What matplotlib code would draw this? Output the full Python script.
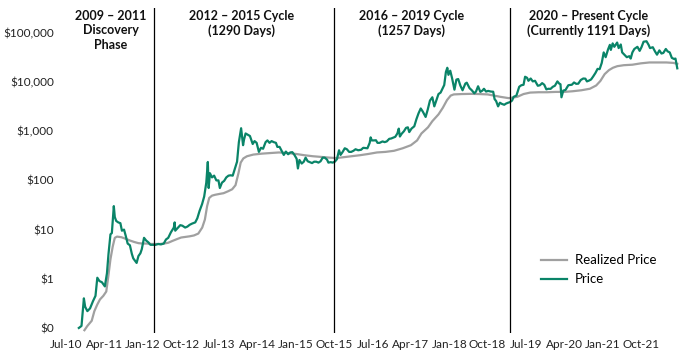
import pandas as pd
import numpy as np
import matplotlib
matplotlib.use('Agg')
import matplotlib.pyplot as plt
import matplotlib.dates as mdates
from matplotlib.ticker import FixedLocator, NullLocator

plt.rcParams['font.family'] = ['Lato', 'DejaVu Sans']

# bitcoin price
price_dates = [
    '2010-10-01', '2010-10-20', '2010-11-06', '2010-11-15', '2010-12-01', '2010-12-20',
    '2011-01-10', '2011-01-28', '2011-02-10', '2011-02-25', '2011-03-15', '2011-04-05',
    '2011-04-20', '2011-05-01', '2011-05-15', '2011-05-25', '2011-06-08', '2011-06-15',
    '2011-06-25', '2011-07-10', '2011-07-25', '2011-08-05', '2011-08-20', '2011-09-01',
    '2011-09-15', '2011-10-01', '2011-10-15', '2011-10-25', '2011-11-18', '2011-12-01',
    '2011-12-15', '2011-12-25', '2012-01-10', '2012-01-25', '2012-02-10', '2012-02-25',
    '2012-03-15', '2012-04-01', '2012-04-20', '2012-05-10', '2012-05-30', '2012-06-15',
    '2012-07-01', '2012-07-20', '2012-08-10', '2012-08-16', '2012-08-20', '2012-09-10',
    '2012-09-25', '2012-10-10', '2012-10-30', '2012-11-15', '2012-12-01', '2012-12-20',
    '2013-01-10', '2013-01-25', '2013-02-10', '2013-02-28', '2013-03-15', '2013-03-30',
    '2013-04-10', '2013-04-16', '2013-04-25', '2013-05-10', '2013-05-25', '2013-06-10',
    '2013-06-25', '2013-07-05', '2013-07-20', '2013-08-05', '2013-08-20', '2013-09-05',
    '2013-09-20', '2013-10-05', '2013-10-20', '2013-11-05', '2013-11-18', '2013-11-25',
    '2013-12-04', '2013-12-18', '2013-12-25', '2014-01-05', '2014-01-20', '2014-02-05',
    '2014-02-25', '2014-03-10', '2014-03-25', '2014-04-10', '2014-04-25', '2014-05-10',
    '2014-05-28', '2014-06-10', '2014-06-25', '2014-07-10', '2014-07-25', '2014-08-10',
    '2014-08-20', '2014-09-05', '2014-09-20', '2014-10-05', '2014-10-20', '2014-11-05',
    '2014-11-20', '2014-12-05', '2014-12-20', '2015-01-05', '2015-01-14', '2015-01-25',
    '2015-02-10', '2015-02-25', '2015-03-10', '2015-03-25', '2015-04-10', '2015-04-25',
    '2015-05-10', '2015-05-25', '2015-06-10', '2015-06-25', '2015-07-10', '2015-07-25',
    '2015-08-10', '2015-08-20', '2015-09-05', '2015-09-20', '2015-10-05', '2015-10-20',
    '2015-11-04', '2015-11-15', '2015-11-30', '2015-12-15', '2015-12-30', '2016-01-15',
    '2016-01-30', '2016-02-15', '2016-03-01', '2016-03-20', '2016-04-10', '2016-04-25',
    '2016-05-10', '2016-05-25', '2016-06-10', '2016-06-17', '2016-06-25', '2016-07-10',
    '2016-07-25', '2016-08-05', '2016-08-20', '2016-09-10', '2016-09-25', '2016-10-10',
    '2016-10-28', '2016-11-10', '2016-11-25', '2016-12-10', '2016-12-25', '2017-01-04',
    '2017-01-12', '2017-01-25', '2017-02-10', '2017-02-25', '2017-03-10', '2017-03-20',
    '2017-04-05', '2017-04-25', '2017-05-10', '2017-05-25', '2017-06-10', '2017-06-25',
    '2017-07-15', '2017-07-30', '2017-08-15', '2017-09-01', '2017-09-15', '2017-09-30',
    '2017-10-15', '2017-10-30', '2017-11-10', '2017-11-25', '2017-12-07', '2017-12-17',
    '2017-12-25', '2018-01-07', '2018-01-20', '2018-02-06', '2018-02-20', '2018-03-05',
    '2018-03-20', '2018-04-05', '2018-04-25', '2018-05-05', '2018-05-25', '2018-06-10',
    '2018-06-28', '2018-07-10', '2018-07-25', '2018-08-10', '2018-08-25', '2018-09-05',
    '2018-09-20', '2018-10-05', '2018-10-25', '2018-11-10', '2018-11-20', '2018-12-01',
    '2018-12-15', '2018-12-28', '2019-01-10', '2019-01-28', '2019-02-10', '2019-02-25',
    '2019-03-10', '2019-03-25', '2019-04-05', '2019-04-25', '2019-05-15', '2019-05-30',
    '2019-06-15', '2019-06-26', '2019-07-10', '2019-07-20', '2019-08-05', '2019-08-20',
    '2019-09-05', '2019-09-25', '2019-10-10', '2019-10-26', '2019-11-10', '2019-11-25',
    '2019-12-10', '2019-12-25', '2020-01-10', '2020-01-25', '2020-02-12', '2020-02-25',
    '2020-03-05', '2020-03-12', '2020-03-25', '2020-04-10', '2020-04-30', '2020-05-10',
    '2020-05-25', '2020-06-10', '2020-06-25', '2020-07-10', '2020-07-28', '2020-08-15',
    '2020-08-30', '2020-09-10', '2020-09-25', '2020-10-10', '2020-10-25', '2020-11-10',
    '2020-11-25', '2020-12-10', '2020-12-25', '2021-01-08', '2021-01-22', '2021-02-08',
    '2021-02-21', '2021-02-28', '2021-03-13', '2021-03-25', '2021-04-14', '2021-04-25',
    '2021-05-10', '2021-05-20', '2021-06-05', '2021-06-22', '2021-07-10', '2021-07-20',
    '2021-08-01', '2021-08-15', '2021-09-06', '2021-09-22', '2021-10-05', '2021-10-20',
    '2021-11-10', '2021-11-25', '2021-12-05', '2021-12-25', '2022-01-10', '2022-01-24',
    '2022-02-10', '2022-02-25', '2022-03-10', '2022-03-28', '2022-04-10', '2022-04-25',
    '2022-05-10', '2022-05-25', '2022-06-05', '2022-06-13', '2022-06-18',
]
price = [
    0.1, 0.11, 0.40, 0.27, 0.22, 0.25,
    0.35, 0.45, 1.05, 0.9, 0.85, 0.70,
    1.3, 3.2, 8.0, 8.5, 30, 18,
    15, 14, 13.5, 9.5, 10, 7.5,
    5.2, 4.8, 3.2, 2.6, 2.1, 2.9,
    3.3, 4.0, 6.8, 6.0, 5.5, 4.9,
    4.9, 4.9, 5.1, 5.0, 5.2, 6.3,
    6.8, 8.8, 11, 14, 9.5, 11,
    12.3, 12, 11, 11.5, 12.5, 13.3,
    14, 17, 24, 33, 47, 90,
    237, 70, 140, 115, 125, 100,
    100, 70, 90, 98, 115, 125,
    127, 125, 170, 240, 600, 800,
    1150, 520, 680, 900, 850, 800,
    550, 630, 580, 380, 460, 440,
    600, 650, 580, 630, 600, 580,
    480, 480, 400, 330, 385, 340,
    370, 375, 330, 275, 175, 260,
    220, 240, 290, 245, 235, 225,
    240, 240, 230, 245, 290, 290,
    265, 230, 235, 230, 240, 270,
    410, 330, 380, 450, 430, 380,
    380, 400, 430, 410, 420, 460,
    455, 450, 580, 750, 650, 650,
    655, 580, 580, 620, 600, 620,
    700, 710, 740, 770, 900, 1130,
    780, 890, 1000, 1170, 1200, 960,
    1130, 1260, 1750, 2300, 2900, 2500,
    1950, 2750, 4200, 4900, 3200, 4300,
    5700, 6100, 7100, 8700, 16000, 19500,
    14000, 17000, 12000, 7000, 11200, 11500,
    8500, 6800, 9300, 9700, 7500, 6800,
    5900, 6400, 8200, 6300, 6700, 7300,
    6400, 6600, 6400, 6350, 4500, 4100,
    3200, 3800, 3600, 3450, 3650, 3800,
    3900, 4200, 5000, 5300, 8000, 8600,
    8800, 12800, 12200, 10600, 11800, 10300,
    10600, 8400, 8600, 9500, 8800, 7100,
    7300, 7250, 8000, 8400, 10300, 9300,
    9000, 4900, 6700, 6900, 8600, 8700,
    8800, 9800, 9200, 9250, 11000, 11800,
    11700, 10300, 10700, 11300, 13000, 15300,
    18500, 18300, 24500, 40000, 32000, 46000,
    57000, 45000, 61000, 52000, 63500, 49000,
    58000, 40000, 36000, 32000, 33500, 30000,
    40000, 47000, 52000, 43000, 51000, 66000,
    67500, 57000, 49000, 51000, 41800, 36000,
    44000, 38000, 39000, 47000, 42000, 40000,
    31000, 29500, 30000, 22500, 19000,
]

# realized price
realized_dates = [
    '2010-11-10', '2010-12-01', '2011-01-01', '2011-01-20', '2011-02-10', '2011-03-01',
    '2011-03-25', '2011-04-15', '2011-05-01', '2011-05-15', '2011-05-31', '2011-06-15',
    '2011-07-01', '2011-08-01', '2011-09-01', '2011-10-01', '2011-11-01', '2011-12-01',
    '2012-01-01', '2012-02-01', '2012-03-01', '2012-04-01', '2012-05-01', '2012-06-01',
    '2012-07-01', '2012-08-01', '2012-09-01', '2012-10-01', '2012-11-01', '2012-12-01',
    '2013-01-01', '2013-02-01', '2013-03-01', '2013-03-20', '2013-04-05', '2013-04-20',
    '2013-05-10', '2013-06-01', '2013-07-01', '2013-08-01', '2013-09-01', '2013-10-01',
    '2013-10-25', '2013-11-15', '2013-12-01', '2013-12-20', '2014-01-15', '2014-03-01',
    '2014-05-01', '2014-07-01', '2014-09-01', '2014-11-01', '2015-01-01', '2015-03-01',
    '2015-05-01', '2015-07-01', '2015-09-01', '2015-10-15', '2015-12-01', '2016-02-01',
    '2016-04-01', '2016-06-01', '2016-08-01', '2016-10-01', '2016-12-01', '2017-02-01',
    '2017-04-01', '2017-05-15', '2017-06-15', '2017-08-01', '2017-09-01', '2017-10-15',
    '2017-11-15', '2017-12-15', '2018-01-10', '2018-02-01', '2018-04-01', '2018-06-01',
    '2018-08-01', '2018-10-01', '2018-12-01', '2019-01-01', '2019-03-01', '2019-05-01',
    '2019-06-15', '2019-08-01', '2019-10-01', '2019-12-01', '2020-02-01', '2020-04-01',
    '2020-06-01', '2020-08-01', '2020-10-01', '2020-11-15', '2020-12-15', '2021-01-15',
    '2021-02-15', '2021-03-15', '2021-04-15', '2021-06-01', '2021-08-01', '2021-10-01',
    '2021-12-01', '2022-02-01', '2022-04-01', '2022-05-20', '2022-06-18',
]
realized = [
    0.09, 0.11, 0.14, 0.22, 0.30, 0.38,
    0.45, 0.55, 1.2, 2.5, 4.5, 6.8,
    7.2, 7.0, 6.5, 6.0, 5.6, 5.3,
    5.2, 5.2, 5.1, 5.1, 5.1, 5.2,
    5.4, 5.9, 6.4, 6.9, 7.1, 7.3,
    7.6, 8.3, 11, 16, 30, 44,
    49, 51, 53, 55, 60, 66,
    80, 140, 230, 280, 310, 335,
    350, 360, 370, 360, 345, 325,
    310, 300, 290, 285, 295, 310,
    325, 345, 370, 380, 400, 450,
    520, 650, 900, 1200, 1600, 2200,
    3000, 4300, 5300, 5600, 5700, 5750,
    5700, 5600, 5200, 5000, 4700, 5000,
    5700, 6100, 6200, 6200, 6300, 6300,
    6500, 6800, 7300, 8500, 10500, 14500,
    17500, 19500, 21000, 22000, 22500, 24000,
    25000, 25000, 25000, 24500, 23500,
]

cycle_starts = ['2012-03-20', '2015-09-30', '2019-03-09']
cycle_titles = ['2009 – 2011\nDiscovery\nPhase', '2012 – 2015 Cycle\n(1290 Days)',
                '2016 – 2019 Cycle\n(1257 Days)', '2020 – Present Cycle\n(Currently 1191 Days)']
title_centers = ['2011-05-15', '2013-12-10', '2017-04-05', '2020-09-25']

ytick_vals = [0.1, 1, 10, 100, 1000, 10000, 100000]
ytick_labels = ['$0', '$1', '$10', '$100', '$1,000', '$10,000', '$100,000']
xtick_dates = pd.date_range('2010-07-01', periods=16, freq='9MS')

fig = plt.figure(figsize=(6.96, 3.6), dpi=100)
ax = fig.add_axes([58/696, 27/360, 626/696, 325/360])

ax.plot(pd.to_datetime(realized_dates), realized, color='#a0a0a0', lw=1.6, label='Realized Price', zorder=2)
ax.plot(pd.to_datetime(price_dates), price, color='#0a8468', lw=1.6, label='Price', zorder=3)

for d in cycle_starts:
    ax.axvline(pd.Timestamp(d), color='black', lw=0.9, zorder=4)

ax.set_yscale('log')
ax.set_ylim(0.079, 3.2e5)
ax.set_xlim(pd.Timestamp('2010-05-05'), pd.Timestamp('2022-08-05'))
ax.yaxis.set_major_locator(FixedLocator(ytick_vals))
ax.yaxis.set_minor_locator(NullLocator())
ax.set_yticklabels(ytick_labels)
ax.set_xticks(xtick_dates)
ax.set_xticklabels([d.strftime('%b-%y') for d in xtick_dates])
ax.tick_params(axis='both', length=0, labelsize=8.5, colors='#222222')
ax.tick_params(axis='y', pad=3)
ax.tick_params(axis='x', pad=4)
for s in ax.spines.values():
    s.set_visible(False)

for t, c in zip(cycle_titles, title_centers):
    ax.text(pd.Timestamp(c), 0.995, t, transform=ax.get_xaxis_transform(), ha='center', va='top',
            fontsize=9, fontweight='bold', color='#111111', linespacing=1.25)

ax.legend(loc='lower right', bbox_to_anchor=(0.975, 0.11), frameon=False, fontsize=9.5,
          handlelength=2.0, handletextpad=0.6, labelspacing=0.55)

plt.savefig('out.png', dpi=100)
